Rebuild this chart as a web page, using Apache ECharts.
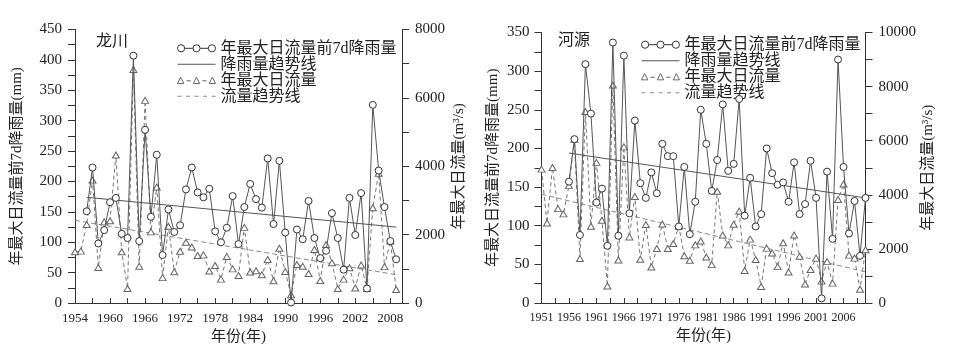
<!DOCTYPE html>
<html>
<head>
<meta charset="utf-8">
<script src="https://cdn.jsdelivr.net/npm/echarts@6/dist/echarts.min.js"></script>
<style>
  html, body { margin: 0; padding: 0; background: #fff; }
  #chart { width: 957px; height: 350px; }
</style>
</head>
<body>
<div id="chart"></div>
<script>
// names
const RAIN = "年最大日流量前7d降雨量";
const RAIN_TREND = "降雨量趋势线";
const FLOW = "年最大日流量";
const FLOW_TREND = "流量趋势线";

// 龙川 (x axis starts 1954)
const lcBase = 1954;
const lcFlowStart = 1954;
const lcFlow = [1500, 1520, 2300, 3600, 1040, 2375, 2410, 4330, 1500, 428,
  6830, 1075, 5927, 2083, 3396, 745, 2248, 915, 1518, 1780,
  1640, 1390, 1410, 940, 1100, 700, 1360, 1000, 805, 2215,
  910, 944, 827, 1275, 655, 1605, 925, 245, 1129, 1075,
  866, 1567, 660, 1710, 1178, 428, 700, 1032, 440, 1115,
  428, 2790, 3795, 1066, 1815, 399];
const lcRainStart = 1956;
const lcRain = [151, 223, 98, 120, 166, 173, 114, 107, 407, 102,
  285, 142, 244, 79, 154, 117, 128, 187, 223, 182,
  174, 188, 118, 100, 124, 176, 97, 158, 196, 171,
  157, 238, 130, 234, 116, 1, 121, 105, 168, 107,
  74, 86, 148, 107, 55, 173, 112, 181, 24, 326,
  218, 158, 102, 72];
const lcRainTrend = [[1956, 174], [2009, 125]];
const lcFlowTrend = [[1954, 2420], [2009, 830]];

// 河源 (x axis starts 1951)
const hyBase = 1951;
const hyFlowStart = 1951;
const hyFlow = [4950, 2960, 5010, 3490, 3295, 4340, 6050, 1642, 7080, 2838,
  5200, 3060, 629, 8056, 1590, 5773, 2443, 3935, 1620, 2905,
  1333, 2012, 2920, 2012, 2197, 2838, 1745, 1580, 2150, 2290,
  1700, 1420, 4130, 2515, 2150, 2910, 3400, 1200, 2360, 1610,
  610, 2030, 1850, 1345, 2225, 1148, 2515, 1730, 700, 1240,
  1660, 810, 1530, 735, 3825, 4400, 1770, 1660, 510, 1970];
const hyRainStart = 1956;
const hyRain = [157, 212, 88, 309, 245, 130, 148, 74, 337, 87,
  320, 116, 236, 155, 136, 169, 142, 206, 190, 190,
  99, 176, 89, 131, 250, 206, 145, 185, 257, 171,
  180, 264, 113, 162, 99, 115, 200, 168, 153, 156,
  131, 182, 115, 128, 184, 136, 6, 170, 83, 315,
  176, 90, 132, 61, 136];
const hyRainTrend = [[1956, 194], [2010, 136]];
const hyFlowTrend = [[1951, 4020], [2010, 1150]];

const FONT = '"Liberation Serif", "Noto Sans CJK SC", serif';
const TXT = "#222";
const AX = "#333";

function seq(start, base, vals) {
  return vals.map((v, i) => [start + i - base, v]);
}
function shift(pts, base) {
  return pts.map((p) => [p[0] - base, p[1]]);
}

const legendData = [
  {
    name: RAIN,
    icon: "path://M0.5,4 A3.5,3.5 0 1 1 7.5,4 A3.5,3.5 0 1 1 0.5,4 Z M7.5,4 L15.5,4 M15.5,4 A3.5,3.5 0 1 1 22.5,4 A3.5,3.5 0 1 1 15.5,4 Z M22.5,4 L30.5,4 M30.5,4 A3.5,3.5 0 1 1 37.5,4 A3.5,3.5 0 1 1 30.5,4 Z",
    itemStyle: { color: "#fff", borderColor: "#333", borderWidth: 1 },
  },
  {
    name: RAIN_TREND,
    icon: "path://M0,3.5 L38,3.5 L38,4.5 L0,4.5 Z",
    itemStyle: { color: "#555", borderWidth: 0 },
  },
  {
    name: FLOW,
    icon: "path://M1,7 L4,1 L7,7 Z M9.5,4.5 L13.5,4.5 M16,7 L19,1 L22,7 Z M24.5,4.5 L28.5,4.5 M31,7 L34,1 L37,7 Z",
    itemStyle: { color: "#fff", borderColor: "#666", borderWidth: 1 },
  },
  {
    name: FLOW_TREND,
    icon: "path://M0,3.5 L4,3.5 L4,4.5 L0,4.5 Z M8.5,3.5 L12.5,3.5 L12.5,4.5 L8.5,4.5 Z M17,3.5 L21,3.5 L21,4.5 L17,4.5 Z M25.5,3.5 L29.5,3.5 L29.5,4.5 L25.5,4.5 Z M34,3.5 L38,3.5 L38,4.5 L34,4.5 Z",
    itemStyle: { color: "#888", borderWidth: 0 },
  },
];

function legend(left, top) {
  return {
    orient: "vertical",
    left: left,
    top: top,
    itemGap: 0,
    itemWidth: 38,
    itemHeight: 8,
    selectedMode: false,
    textStyle: { fontFamily: FONT, fontSize: 16, color: TXT, lineHeight: 15.5 },
    data: legendData,
  };
}

function xAxis(grid, max, interval, every, base) {
  return {
    type: "value",
    gridIndex: grid,
    min: 0,
    max: max,
    interval: interval,
    axisLine: { onZero: false, lineStyle: { color: AX, width: 1 } },
    axisTick: { inside: true, length: 5, lineStyle: { color: AX } },
    axisLabel: {
      margin: 9,
      color: TXT,
      fontFamily: FONT,
      fontSize: grid === 0 ? 13 : 12,
      formatter: (v) => (v % every === 0 ? String(base + v) : ""),
    },
    splitLine: { show: false },
    name: "年份(年)",
    nameLocation: "middle",
    nameGap: 22,
    nameTextStyle: { fontFamily: FONT, fontSize: 15, color: TXT },
  };
}

function yAxis(grid, pos, max, interval, name, gap, margin) {
  return {
    type: "value",
    gridIndex: grid,
    position: pos,
    min: 0,
    max: max,
    interval: interval,
    axisLine: { show: true, lineStyle: { color: AX, width: 1 } },
    axisTick: { show: true, length: 7, lineStyle: { color: AX } },
    minorTick: { show: true, splitNumber: 2, length: 7, lineStyle: { color: AX } },
    axisLabel: {
      margin: margin,
      color: TXT,
      fontFamily: FONT,
      fontSize: 15,
      formatter: (v) => String(v),
    },
    splitLine: { show: false },
    name: name,
    nameLocation: "middle",
    nameRotate: 90,
    nameGap: gap,
    nameTextStyle: { fontFamily: FONT, fontSize: 15, color: TXT },
  };
}

function panelSeries(xi, yRain, yFlow, base, rainStart, rain, flowStart, flow, rainTrend, flowTrend) {
  return [
    {
      type: "line",
      name: FLOW,
      xAxisIndex: xi,
      yAxisIndex: yFlow,
      data: seq(flowStart, base, flow),
      symbol: "triangle",
      symbolSize: [7, 6],
      itemStyle: { color: "#fff", borderColor: "#666", borderWidth: 1 },
      lineStyle: { color: "#777", width: 1, type: [4, 3] },
      z: 2,
    },
    {
      type: "line",
      name: FLOW_TREND,
      xAxisIndex: xi,
      yAxisIndex: yFlow,
      data: shift(flowTrend, base),
      symbol: "none",
      lineStyle: { color: "#888", width: 1, type: [5, 3] },
      z: 2,
    },
    {
      type: "line",
      name: RAIN_TREND,
      xAxisIndex: xi,
      yAxisIndex: yRain,
      data: shift(rainTrend, base),
      symbol: "none",
      lineStyle: { color: "#555", width: 1 },
      z: 3,
    },
    {
      type: "line",
      name: RAIN,
      xAxisIndex: xi,
      yAxisIndex: yRain,
      data: seq(rainStart, base, rain),
      symbol: "circle",
      symbolSize: 7,
      itemStyle: { color: "#fff", borderColor: "#333", borderWidth: 1 },
      lineStyle: { color: "#555", width: 1 },
      z: 4,
    },
  ];
}

const chart = echarts.init(document.getElementById("chart"), null, { renderer: "canvas" });

chart.setOption({
  backgroundColor: "#fff",
  animation: false,
  grid: [
    { left: 75, top: 29.5, width: 327, height: 274 },
    { left: 541.5, top: 32.5, width: 324, height: 270.5 },
  ],
  xAxis: [
    xAxis(0, 56, 3, 6, lcBase),
    xAxis(1, 59, 2.5, 5, hyBase),
  ],
  yAxis: [
    yAxis(0, "left", 450, 50, "年最大日流量前7d降雨量(mm)", 50, 13),
    yAxis(0, "right", 8000, 2000, "年最大日流量(m³/s)", 50, 13),
    yAxis(1, "left", 350, 50, "年最大日流量前7d降雨量(mm)", 41, 12),
    yAxis(1, "right", 10000, 2000, "年最大日流量(m³/s)", 55, 13),
  ],
  legend: [legend(172, 35.3), legend(636, 31.7)],
  graphic: [
    { type: "text", left: 96, top: 34, style: { text: "龙川", fontFamily: FONT, fontSize: 16, fill: TXT } },
    { type: "text", left: 558, top: 33, style: { text: "河源", fontFamily: FONT, fontSize: 16, fill: TXT } },
  ],
  series: [
    ...panelSeries(0, 0, 1, lcBase, lcRainStart, lcRain, lcFlowStart, lcFlow, lcRainTrend, lcFlowTrend),
    ...panelSeries(1, 2, 3, hyBase, hyRainStart, hyRain, hyFlowStart, hyFlow, hyRainTrend, hyFlowTrend),
  ],
});
</script>
</body>
</html>
